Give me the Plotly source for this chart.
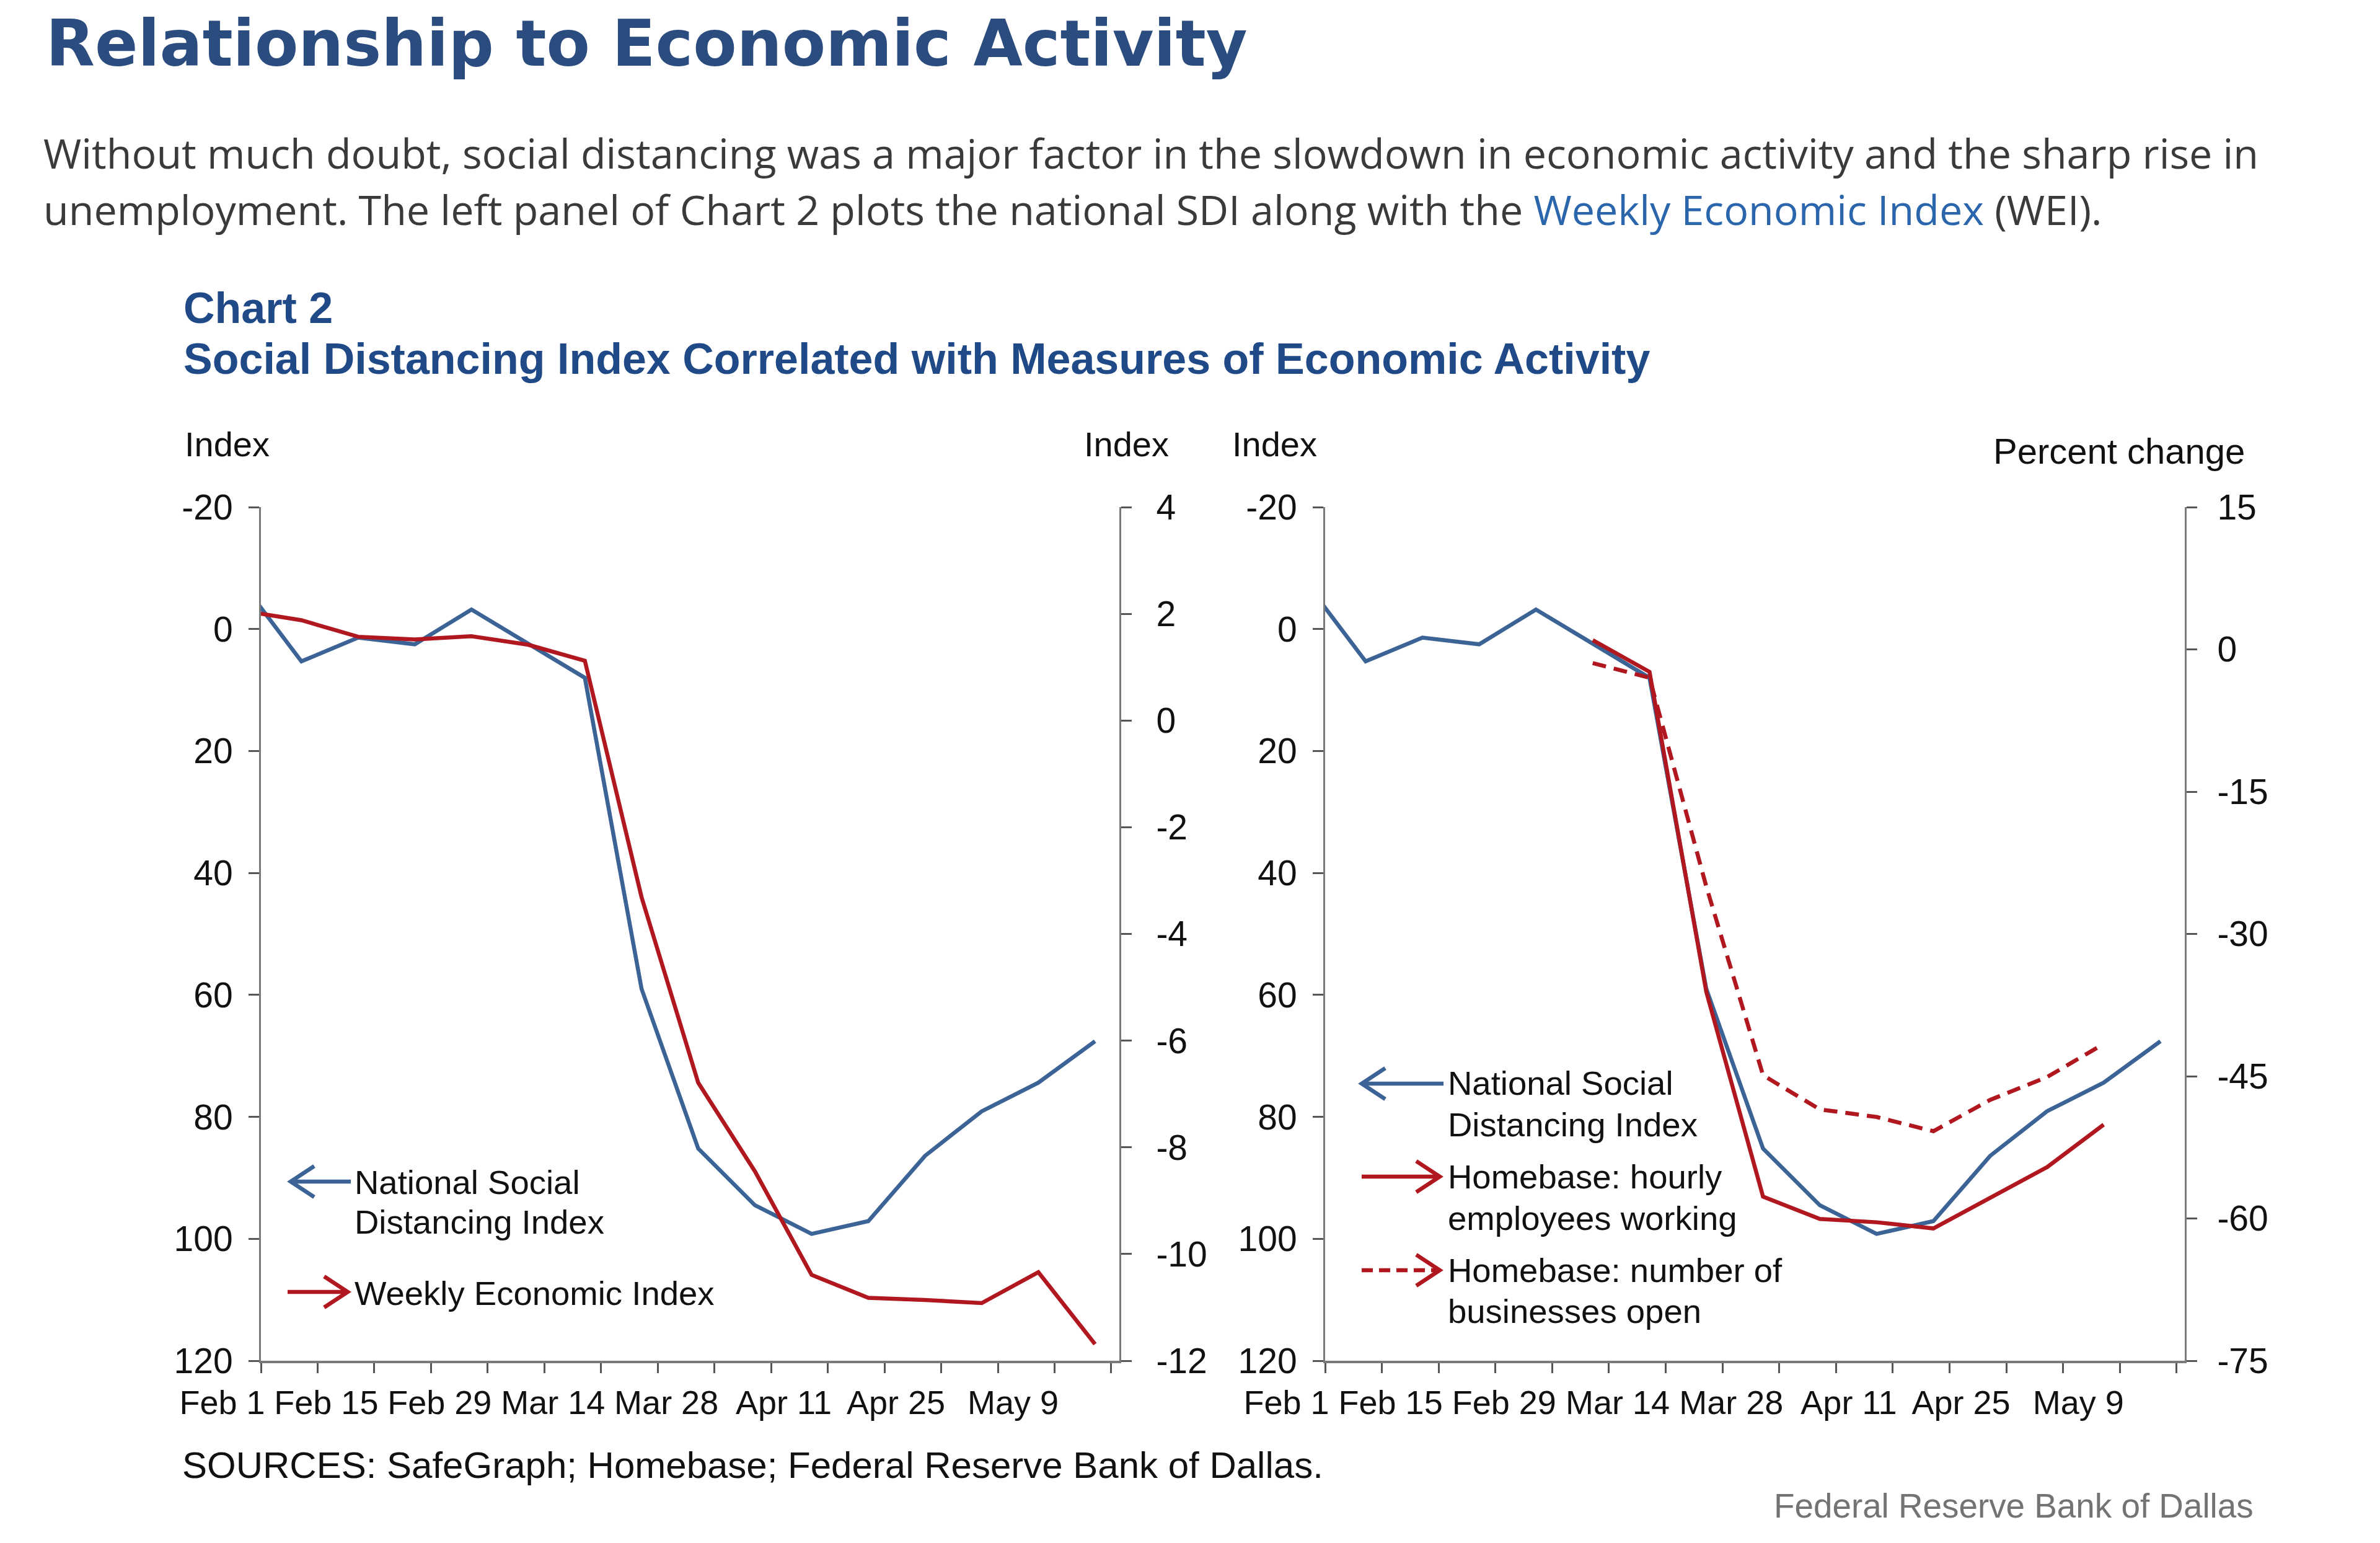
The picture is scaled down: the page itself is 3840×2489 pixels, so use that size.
import plotly.graph_objects as go

# ---------------- data ----------------
dates = ["2020-01-30", "2020-02-06", "2020-02-13", "2020-02-20", "2020-02-27",
         "2020-03-05", "2020-03-12", "2020-03-19", "2020-03-26", "2020-04-02",
         "2020-04-09", "2020-04-16", "2020-04-23", "2020-04-30", "2020-05-07",
         "2020-05-14"]
sdi = [-7.0, 5.3, 1.4, 2.5, -3.2, 2.4, 8.0, 59.0, 85.2, 94.5, 99.2, 97.1, 86.4, 79.1, 74.4, 67.6]
wei = [2.05, 1.88, 1.57, 1.52, 1.58, 1.42, 1.12, -3.31, -6.79, -8.45, -10.39, -10.82, -10.86,
       -10.92, -10.34, -11.69]
hourly_workers = [None, None, None, None, None, 0.97, -2.37, -36.1, -57.7, -60.05, -60.4,
                  -61.05, -57.8, -54.6, -50.1, None]
businesses_open = [None, None, None, None, None, -1.44, -2.99, -25.0, -44.9, -48.5, -49.3,
                   -50.8, -47.5, -45.1, -41.6, None]

tick_dates = ["2020-02-01", "2020-02-08", "2020-02-15", "2020-02-22", "2020-02-29",
              "2020-03-07", "2020-03-14", "2020-03-21", "2020-03-28", "2020-04-04",
              "2020-04-11", "2020-04-18", "2020-04-25", "2020-05-02", "2020-05-09",
              "2020-05-16"]
tick_labels = ["Feb 1", "", "Feb 15", "", "Feb 29", "", "Mar 14", "", "Mar 28", "",
               "Apr 11", "", "Apr 25", "", "May 9", ""]
x_range = ["2020-02-01", "2020-05-17"]
sdi_ticks = [-20, 0, 20, 40, 60, 80, 100, 120]
sdi_labels = ["-20", "0", "20", "40", "60", "80", "100", "120"]
wei_ticks = [4, 2, 0, -2, -4, -6, -8, -10, -12]
wei_labels = ["4", "2", "0", "-2", "-4", "-6", "-8", "-10", "-12"]
pct_ticks = [15, 0, -15, -30, -45, -60, -75]
pct_labels = ["15", "0", "-15", "-30", "-45", "-60", "-75"]

# ---------------- styling ----------------
W, H = 3840, 2489
BLUE = "#3b6396"
RED = "#b0171f"
AXIS = "#7a7a7a"
ARIAL = "Liberation Sans, Arial, sans-serif"
LW = 6.5


def X(px):
    return px / W


def Y(py):
    return 1 - py / H


y_dom = [Y(2195), Y(818)]
xL = [X(421), X(1806)]
xR = [X(2138), X(3525)]

fig = go.Figure()

fig.add_trace(go.Scatter(x=dates, y=sdi, mode="lines", line=dict(color=BLUE, width=LW),
                         xaxis="x", yaxis="y", name="National Social Distancing Index"))
fig.add_trace(go.Scatter(x=dates, y=wei, mode="lines", line=dict(color=RED, width=LW),
                         xaxis="x", yaxis="y2", name="Weekly Economic Index"))
fig.add_trace(go.Scatter(x=dates, y=sdi, mode="lines", line=dict(color=BLUE, width=LW),
                         xaxis="x2", yaxis="y3", name="National Social Distancing Index"))
fig.add_trace(go.Scatter(x=dates, y=businesses_open, mode="lines",
                         line=dict(color=RED, width=LW, dash="22px,13px"),
                         xaxis="x2", yaxis="y4", name="Homebase: number of businesses open"))
fig.add_trace(go.Scatter(x=dates, y=hourly_workers, mode="lines", line=dict(color=RED, width=LW),
                         xaxis="x2", yaxis="y4", name="Homebase: hourly employees working"))

xcommon = dict(type="date", range=x_range, tickmode="array", tickvals=tick_dates,
               ticktext=tick_labels, ticks="outside", ticklen=16, tickwidth=3,
               tickcolor="#555555", showline=True, linecolor=AXIS, linewidth=4,
               showgrid=False, zeroline=False, ticklabelposition="outside left",
               tickangle=0, automargin=False, ticklabelstandoff=17, ticklabelshift=10,
               tickfont=dict(family=ARIAL, size=54, color="#111111"), fixedrange=True)
ycommon = dict(ticks="outside", ticklen=17, tickwidth=3, tickcolor="#555555",
               showline=True, linecolor=AXIS, linewidth=3, showgrid=False, zeroline=False,
               automargin=False, tickmode="array",
               tickfont=dict(family=ARIAL, size=57, color="#111111"), fixedrange=True)

fig.update_layout(
    template="none",
    width=W, height=H, margin=dict(l=0, r=0, t=0, b=0, pad=0), autosize=False,
    paper_bgcolor="white", plot_bgcolor="white", showlegend=False,
    xaxis=dict(domain=xL, anchor="y", **xcommon),
    xaxis2=dict(domain=xR, anchor="y3", **xcommon),
    yaxis=dict(domain=y_dom, anchor="x", side="left", range=[120, -20],
               tickvals=sdi_ticks, ticktext=sdi_labels, ticklabelstandoff=14, **ycommon),
    yaxis2=dict(overlaying="y", anchor="x", side="right", range=[-12, 4],
                tickvals=wei_ticks, ticktext=wei_labels, ticklabelstandoff=28, **ycommon),
    yaxis3=dict(domain=y_dom, anchor="x2", side="left", range=[120, -20],
                tickvals=sdi_ticks, ticktext=sdi_labels, ticklabelstandoff=14, **ycommon),
    yaxis4=dict(overlaying="y3", anchor="x2", side="right", range=[-75, 15],
                tickvals=pct_ticks, ticktext=pct_labels, ticklabelstandoff=21, **ycommon),
)

ann = []


def text(px, py, s, size, color="#111111", family=ARIAL, xanchor="left", bold=False):
    ann.append(dict(x=X(px), y=Y(py), xref="paper", yref="paper", text=s, showarrow=False,
                    xanchor=xanchor, yanchor="middle", align="left",
                    font=dict(family=family, size=size, color=color,
                              weight=700 if bold else 400)))


# page header
text(72, 71, "Relationship to Economic Activity", 102.5, "#2b4c7e", "DejaVu Sans, sans-serif",
     bold=True)
text(68, 246, "Without much doubt, social distancing was a major factor in the slowdown in "
     "economic activity and the sharp rise in", 66.4, "#3a3a3a", "Open Sans, sans-serif")
text(68, 337, "unemployment. The left panel of Chart 2 plots the national SDI along with the "
     "<span style='color:#2b66ad'>Weekly Economic Index</span> (WEI).", 66.4, "#3a3a3a",
     "Open Sans, sans-serif")

# chart heading
text(294, 497, "Chart 2", 70, "#1f4a87", bold=True)
text(294, 579, "Social Distancing Index Correlated with Measures of Economic Activity", 70,
     "#1f4a87", bold=True)

# axis unit labels
text(296, 717, "Index", 56)
text(1747, 717, "Index", 56)
text(1986, 717, "Index", 56)
text(3214, 728, "Percent change", 58)

# legend texts, left panel
text(570, 1907, "National Social", 54.5)
text(570, 1971, "Distancing Index", 54.5)
text(570, 2086, "Weekly Economic Index", 54.5)
# legend texts, right panel
text(2334, 1748, "National Social", 54.5)
text(2334, 1814, "Distancing Index", 54.5)
text(2334, 1898, "Homebase: hourly", 54.5)
text(2334, 1965, "employees working", 54.5)
text(2334, 2049, "Homebase: number of", 54.5)
text(2334, 2115, "businesses open", 54.5)

# footers
text(292, 2363, "SOURCES: SafeGraph; Homebase; Federal Reserve Bank of Dallas.", 60)
text(2860, 2429, "Federal Reserve Bank of Dallas", 54.8, "#737373")

shapes = []


def arrow(x0, x1, y, color, tip_left, dash=None):
    shapes.append(dict(type="line", xref="paper", yref="paper", x0=X(x0), x1=X(x1),
                       y0=Y(y), y1=Y(y), line=dict(color=color, width=6.5, dash=dash)))
    tip = x0 if tip_left else x1
    back = tip + 38 if tip_left else tip - 38
    path = "M {} {} L {} {} L {} {}".format(X(back), Y(y - 25), X(tip), Y(y), X(back), Y(y + 25))
    shapes.append(dict(type="path", xref="paper", yref="paper", path=path,
                       line=dict(color=color, width=6.5)))


arrow(469, 566, 1906, BLUE, True)
arrow(464, 561, 2084, RED, False)
arrow(2197, 2329, 1748, BLUE, True)
arrow(2197, 2323, 1898, RED, False)
arrow(2197, 2323, 2049, RED, False, dash="18px,10px")

fig.update_layout(annotations=ann, shapes=shapes)
fig.write_html("out.html")
